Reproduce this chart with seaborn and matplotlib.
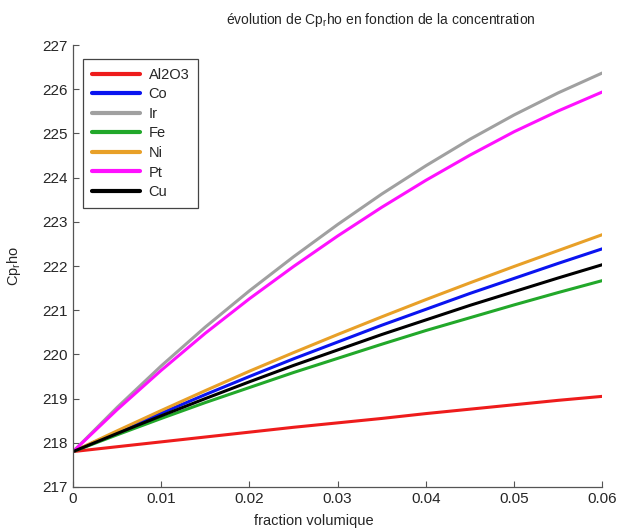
import pandas as pd
import seaborn as sns
import matplotlib.pyplot as plt
import numpy as np

# volume fraction (x axis) and Cp_rho values
fraction = [0.0, 0.005, 0.01, 0.015, 0.02, 0.025, 0.03, 0.035, 0.04, 0.045, 0.05, 0.055, 0.06]
al2o3 = [217.8, 217.91, 218.02, 218.13, 218.24, 218.35, 218.45, 218.55, 218.66, 218.76, 218.86, 218.96, 219.05]
co = [217.8, 218.24, 218.67, 219.09, 219.5, 219.9, 220.28, 220.66, 221.02, 221.38, 221.72, 222.06, 222.39]
ir = [217.8, 218.8, 219.74, 220.62, 221.44, 222.21, 222.94, 223.63, 224.27, 224.87, 225.42, 225.92, 226.37]
fe = [217.8, 218.18, 218.55, 218.91, 219.25, 219.59, 219.91, 220.23, 220.54, 220.83, 221.12, 221.4, 221.67]
ni = [217.8, 218.27, 218.73, 219.18, 219.62, 220.04, 220.45, 220.85, 221.24, 221.62, 221.99, 222.35, 222.71]
pt = [217.8, 218.75, 219.64, 220.48, 221.26, 221.99, 222.68, 223.33, 223.94, 224.51, 225.04, 225.51, 225.94]
cu = [217.8, 218.21, 218.61, 219.0, 219.38, 219.75, 220.1, 220.45, 220.78, 221.11, 221.42, 221.73, 222.03]

names = ['Al2O3', 'Co', 'Ir', 'Fe', 'Ni', 'Pt', 'Cu']
colors = ['#ee1c1c', '#0a14f0', '#a0a0a0', '#22a82a', '#e8a028', '#ff10ff', '#000000']

# build a long table for seaborn
series = [al2o3, co, ir, fe, ni, pt, cu]
df = pd.DataFrame({
    'fraction': fraction * len(names),
    'cp': np.concatenate(series),
    'metal': np.repeat(names, len(fraction)),
})

sns.set_style('white')
plt.rcParams['font.family'] = ['Liberation Sans', 'DejaVu Sans']
plt.rcParams['mathtext.fontset'] = 'custom'
plt.rcParams['mathtext.rm'] = 'Liberation Sans'

fig = plt.figure(figsize=(6.19, 5.31), dpi=100)
ax = fig.add_axes([0.118, 0.083, 0.855, 0.832])

sns.lineplot(data=df, x='fraction', y='cp', hue='metal', hue_order=names,
             palette=colors, linewidth=2.2, ax=ax)

ax.set_xlim(0, 0.06)
ax.set_ylim(217, 227)
ax.set_xticks([0, 0.01, 0.02, 0.03, 0.04, 0.05, 0.06])
ax.set_xticklabels(['0', '0.01', '0.02', '0.03', '0.04', '0.05', '0.06'])
ax.set_yticks(range(217, 228))
ax.tick_params(direction='in', length=4, width=0.8, color='#555555',
               labelsize=11, pad=4, left=True, bottom=True)
for side in ['top', 'right']:
    ax.spines[side].set_visible(False)
for side in ['left', 'bottom']:
    ax.spines[side].set_color('#555555')
    ax.spines[side].set_linewidth(0.9)

ax.set_xlabel('fraction volumique', fontsize=10.5)
ax.xaxis.set_label_coords(0.455, -0.062)
ax.set_ylabel(r'Cp$_\mathregular{r}$ho', fontsize=10.5)
ax.yaxis.set_label_coords(-0.095, 0.5)
fig.text(0.615, 0.962, r'évolution de Cp$_\mathregular{r}$ho en fonction de la concentration',
         ha='center', va='center', fontsize=10)

leg = ax.legend(loc='upper left', bbox_to_anchor=(0.005, 0.985), fontsize=10.5,
                handlelength=3.3, handletextpad=0.6, labelspacing=0.38,
                borderpad=0.6, fancybox=False, framealpha=1)
leg.get_frame().set_edgecolor('#444444')
leg.get_frame().set_linewidth(0.9)
for line in leg.get_lines():
    line.set_linewidth(3)

fig.savefig('out.png', dpi=100)
